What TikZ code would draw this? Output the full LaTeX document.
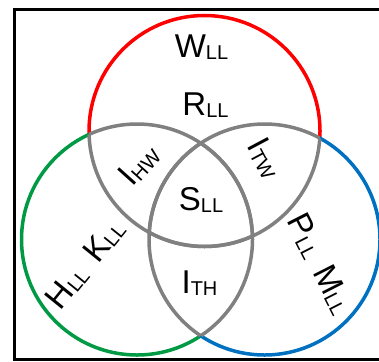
\documentclass[tikz,border=0pt]{standalone}
\usepackage{fontspec}
\setmainfont{Liberation Sans}
\definecolor{vred}{RGB}{255,0,0}
\definecolor{vgreen}{RGB}{0,153,68}
\definecolor{vblue}{RGB}{0,112,192}
\definecolor{vgray}{RGB}{128,128,128}
\newcommand{\lbl}[2]{{\fontsize{33}{36}\selectfont #1}\raisebox{-2pt}{\fontsize{20}{22}\selectfont #2}}
\newcommand{\cR}{(204.5,131) circle[radius=115.5]}
\newcommand{\cG}{(137,239.5) circle[radius=115.5]}
\newcommand{\cB}{(264.5,239.5) circle[radius=115.5]}
\newcommand{\bigbox}{(-50,-50) rectangle (450,450)}
\begin{document}
\begin{tikzpicture}[x=1pt,y=-1pt,
  lab/.style={inner sep=0pt, outer sep=0pt, anchor=base},
  rlab/.style={inner sep=0pt, outer sep=0pt, anchor=center},
  circ/.style={line width=3.5pt}]
\useasboundingbox (0,0) rectangle (379,361);
\draw[line width=3pt] (385,359.5) -- (14.5,359.5) -- (14.5,9.5) -- (385,9.5);
% coloured parts (outside the other two circles)
\begin{scope}[even odd rule]
  \clip \bigbox \cG;
  \clip \bigbox \cB;
  \draw[circ, vred] \cR;
\end{scope}
\begin{scope}[even odd rule]
  \clip \bigbox \cR;
  \clip \bigbox \cB;
  \draw[circ, vgreen] \cG;
\end{scope}
\begin{scope}[even odd rule]
  \clip \bigbox \cR;
  \clip \bigbox \cG;
  \draw[circ, vblue] \cB;
\end{scope}
% grey overlaps
\begin{scope}
  \clip \cG;
  \draw[circ, vgray] \cR;
  \draw[circ, vgray] \cB;
\end{scope}
\begin{scope}
  \clip \cR;
  \draw[circ, vgray] \cG;
  \draw[circ, vgray] \cB;
\end{scope}
\begin{scope}
  \clip \cB;
  \draw[circ, vgray] \cR;
  \draw[circ, vgray] \cG;
\end{scope}
% labels
\node[lab] (w) at (201.5,57) {\lbl{W}{LL}};
\node[lab] (r) at (205.5,115.7) {\lbl{R}{LL}};
\node[lab] (s) at (201,210.5) {\lbl{S}{LL}};
\node[lab] (ith) at (199.5,293.3) {\lbl{I}{TH}};
\node[rlab, rotate=48] (ihw) at (139,165) {\lbl{I}{HW}};
\node[rlab, rotate=-62] (itw) at (265,158) {\lbl{I}{TW}};
\node[rlab, rotate=51] (hk) at (85,264) {\lbl{H}{LL}\hspace{14pt}\lbl{K}{LL}};
\node[rlab, rotate=-63] (pm) at (320,264) {\lbl{P}{LL}\hspace{14pt}\lbl{M}{LL}};
\end{tikzpicture}
\end{document}
